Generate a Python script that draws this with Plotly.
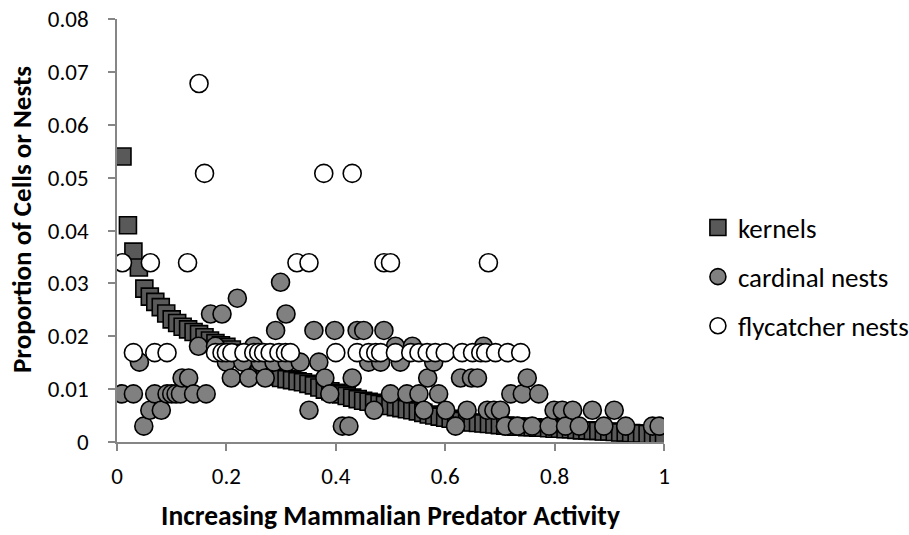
import plotly.graph_objects as go

# ---------------- data ----------------
kernel_x = [round(0.01 * i, 2) for i in range(1, 101)]
kernel_y = [0.054, 0.041, 0.036, 0.033, 0.029, 0.0275, 0.0265, 0.0255, 0.0243, 0.0232,
            0.0225, 0.0218, 0.0213, 0.0208, 0.0204, 0.0198, 0.0192, 0.0187, 0.0183, 0.018,
            0.0175, 0.0168, 0.016, 0.0153, 0.0146, 0.014, 0.0134, 0.0129, 0.0124, 0.0121,
            0.0119, 0.0117, 0.0115, 0.0113, 0.011, 0.0107, 0.0103, 0.0099, 0.0096, 0.0093,
            0.009, 0.0087, 0.0084, 0.0081, 0.0078, 0.0076, 0.0074, 0.0072, 0.007, 0.0068,
            0.0066, 0.0064, 0.0062, 0.006, 0.0058, 0.0055, 0.0052, 0.005, 0.0048, 0.0046,
            0.0044, 0.0042, 0.004, 0.0038, 0.0037, 0.0036, 0.0035, 0.0034, 0.0033, 0.0032,
            0.0031, 0.003, 0.0029, 0.0029, 0.0028, 0.0028, 0.0027, 0.0027, 0.0026, 0.0025,
            0.0025, 0.0024, 0.0024, 0.0023, 0.0022, 0.0022, 0.0021, 0.0021, 0.002, 0.002,
            0.0019, 0.0018, 0.0018, 0.0017, 0.0016, 0.0016, 0.0015, 0.0014, 0.0013, 0.0012]

cardinal_x = [0.009, 0.03, 0.041, 0.049, 0.06, 0.069, 0.081, 0.0915, 0.10, 0.108,
              0.116, 0.119, 0.131, 0.14, 0.149, 0.163, 0.171, 0.18, 0.192, 0.2,
              0.209, 0.22, 0.23, 0.241, 0.25, 0.262, 0.271, 0.287, 0.29, 0.299,
              0.309, 0.311, 0.335, 0.351, 0.36, 0.369, 0.38, 0.389, 0.398, 0.412,
              0.424, 0.43, 0.439, 0.451, 0.46, 0.47, 0.482, 0.488, 0.5, 0.509,
              0.518, 0.53, 0.54, 0.552, 0.561, 0.568, 0.579, 0.588, 0.601, 0.619,
              0.628, 0.64, 0.648, 0.659, 0.67, 0.677, 0.689, 0.701, 0.71, 0.72,
              0.732, 0.741, 0.75, 0.759, 0.771, 0.79, 0.799, 0.814, 0.82, 0.833,
              0.845, 0.869, 0.89, 0.909, 0.93, 0.979, 0.991]
cardinal_y = [0.0091, 0.0091, 0.0151, 0.0030, 0.0060, 0.0091, 0.0060, 0.0091, 0.0091, 0.0091,
              0.0091, 0.0121, 0.0121, 0.0091, 0.0181, 0.0091, 0.0242, 0.0181, 0.0242, 0.0151,
              0.0121, 0.0272, 0.0151, 0.0121, 0.0181, 0.0151, 0.0121, 0.0151, 0.0211, 0.0302,
              0.0242, 0.0151, 0.0151, 0.0060, 0.0211, 0.0151, 0.0121, 0.0091, 0.0211, 0.0030,
              0.0030, 0.0121, 0.0211, 0.0211, 0.0151, 0.0060, 0.0151, 0.0211, 0.0091, 0.0181,
              0.0151, 0.0091, 0.0181, 0.0091, 0.0060, 0.0121, 0.0151, 0.0091, 0.0060, 0.0030,
              0.0121, 0.0060, 0.0121, 0.0121, 0.0181, 0.0060, 0.0060, 0.0060, 0.0030, 0.0091,
              0.0030, 0.0091, 0.0121, 0.0030, 0.0091, 0.0030, 0.0060, 0.0060, 0.0030, 0.0060,
              0.0030, 0.0060, 0.0030, 0.0060, 0.0030, 0.0030, 0.0030]

fly_x = [0.01, 0.061, 0.129, 0.329, 0.351, 0.488, 0.5, 0.679,
         0.16, 0.378, 0.43,
         0.15,
         0.03, 0.069, 0.0915, 0.18, 0.192, 0.2, 0.21, 0.232, 0.25, 0.259, 0.268, 0.28,
         0.296, 0.308, 0.317, 0.40, 0.439, 0.46, 0.473, 0.482, 0.509, 0.537, 0.552, 0.567,
         0.582, 0.6, 0.631, 0.65, 0.665, 0.674, 0.692, 0.714, 0.738]
fly_y = [0.0339] * 8 + [0.0508] * 3 + [0.0678] + [0.0169] * 33

x_ticks = [0, 0.2, 0.4, 0.6, 0.8, 1]
x_tick_labels = ["0", "0.2", "0.4", "0.6", "0.8", "1"]
y_ticks = [0, 0.01, 0.02, 0.03, 0.04, 0.05, 0.06, 0.07, 0.08]
y_tick_labels = ["0", "0.01", "0.02", "0.03", "0.04", "0.05", "0.06", "0.07", "0.08"]

FONT = "Carlito, Calibri, Lato, sans-serif"

fig = go.Figure()
fig.add_trace(go.Scatter(
    x=kernel_x, y=kernel_y, mode="markers", name="kernels", legendgroup="a",
    marker=dict(symbol="square", size=17, color="#595959", line=dict(color="black", width=1.6)),
))
fig.add_trace(go.Scatter(
    x=cardinal_x, y=cardinal_y, mode="markers", name="cardinal nests", legendgroup="b",
    marker=dict(symbol="circle", size=18, color="#808080", line=dict(color="black", width=1.6)),
))
fig.add_trace(go.Scatter(
    x=fly_x, y=fly_y, mode="markers", name="flycatcher nests", legendgroup="c",
    marker=dict(symbol="circle", size=18, color="white", line=dict(color="black", width=1.6)),
))

axis_common = dict(
    showgrid=False, zeroline=False, showline=True, linecolor="#868686", linewidth=1.5,
    ticks="outside", ticklen=7, tickwidth=1.5, tickcolor="#868686",
    tickfont=dict(family=FONT, size=23, color="black"),
)

fig.update_layout(
    width=909, height=535,
    margin=dict(l=117, r=245, t=19, b=93, autoexpand=False),
    paper_bgcolor="white", plot_bgcolor="white",
    font=dict(family=FONT, color="black"),
    xaxis=dict(range=[0, 1], tickvals=x_ticks, ticktext=x_tick_labels,
               ticklabelstandoff=6,
               title=dict(text="<b>Increasing Mammalian Predator Activity</b>",
                          font=dict(family=FONT, size=27.5, color="black"), standoff=16),
               **axis_common),
    yaxis=dict(range=[0, 0.08], tickvals=y_ticks, ticktext=y_tick_labels,
               ticklabelstandoff=15, **axis_common),
    annotations=[dict(
        text="<b>Proportion of Cells or Nests</b>", textangle=-90,
        xref="paper", yref="paper",
        x=(21 - 117) / 547, y=(442 - 220) / 423,
        xanchor="center", yanchor="middle", showarrow=False,
        font=dict(family=FONT, size=27, color="black"),
    )],
    legend=dict(x=1.062, xanchor="left", y=(442 - 277) / 423, yanchor="middle",
                font=dict(family=FONT, size=27, color="black"),
                tracegroupgap=11, itemwidth=30, bgcolor="rgba(0,0,0,0)"),
    showlegend=True,
)

fig.write_html("out.html")
